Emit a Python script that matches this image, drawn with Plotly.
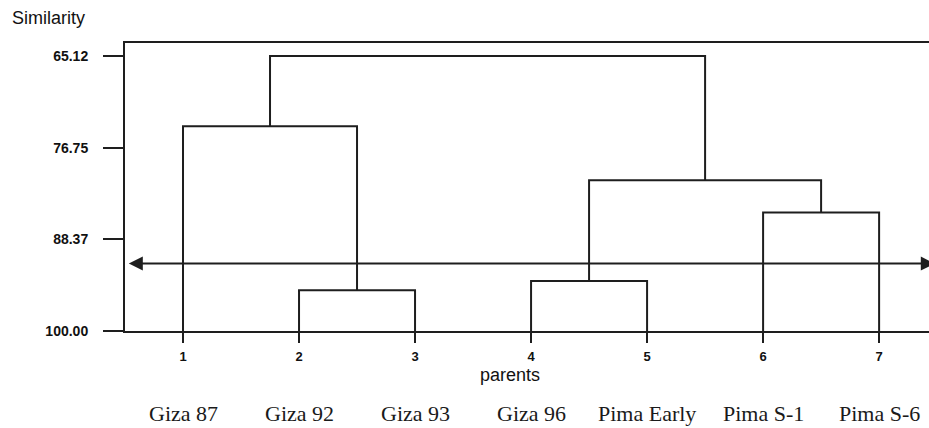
import plotly.graph_objects as go

# ---- data ----
leaf_ids = [1, 2, 3, 4, 5, 6, 7]
leaf_names = ["Giza 87", "Giza 92", "Giza 93", "Giza 96", "Pima Early", "Pima S-1", "Pima S-6"]
# merges: clusters C1..C6 created in order
merge_a = ["2", "4", "6", "1", "C2", "C4"]
merge_b = ["3", "5", "7", "C1", "C3", "C5"]
merge_height = [94.84, 93.66, 84.98, 74.04, 80.89, 65.12]
cut_level = 91.45
y_ticks = [65.12, 76.75, 88.37, 100.00]
y_tick_text = ["65.12", "76.75", "88.37", "100.00"]
leaf_base = 100.0

# ---- build dendrogram segments ----
pos = {str(i): (float(i), leaf_base) for i in leaf_ids}
xs, ys = [], []
for k, (a, b, h) in enumerate(zip(merge_a, merge_b, merge_height), start=1):
    xa, ha = pos[a]
    xb, hb = pos[b]
    xs += [xa, xa, xb, xb, None]
    ys += [ha, h, h, hb, None]
    pos["C%d" % k] = ((xa + xb) / 2.0, h)

line_col = "#1e1e1e"
fig = go.Figure()
fig.add_trace(go.Scatter(x=xs, y=ys, mode="lines",
                         line=dict(color=line_col, width=2),
                         hoverinfo="skip", showlegend=False, cliponaxis=False))

# cut line with double arrow
fig.add_annotation(x=7.48, y=cut_level, ax=0.52, ay=cut_level,
                   xref="x", yref="y", axref="x", ayref="y", text="",
                   showarrow=True, arrowside="end+start", arrowhead=2,
                   arrowsize=1.4, arrowwidth=2, arrowcolor=line_col)

# leaf names
for i, name in zip(leaf_ids, leaf_names):
    fig.add_annotation(x=i, y=-0.285, xref="x", yref="paper", text=name,
                       showarrow=False, yanchor="middle",
                       font=dict(family="Liberation Serif", size=22, color="#1a1a1a"))

fig.add_annotation(x=-0.143, y=1.087, xref="paper", yref="paper", text="Similarity",
                   showarrow=False, xanchor="left", yanchor="middle",
                   font=dict(family="Liberation Sans", size=18, color="#111"))
fig.add_annotation(x=0.479, y=-0.152, xref="paper", yref="paper", text="parents",
                   showarrow=False, xanchor="center", yanchor="middle",
                   font=dict(family="Liberation Sans", size=18, color="#111"))

fig.update_layout(
    width=929, height=428,
    margin=dict(l=125, r=0, t=43, b=97),
    paper_bgcolor="white", plot_bgcolor="white",
    xaxis=dict(range=[0.5, 7.43], tickvals=leaf_ids,
               ticktext=["<b>%d</b>" % i for i in leaf_ids],
               showline=True, linecolor=line_col, linewidth=2, mirror=True,
               ticks="outside", ticklen=10, tickwidth=2, tickcolor=line_col,
               ticklabelstandoff=2,
               showgrid=False, zeroline=False,
               tickfont=dict(family="Liberation Sans", size=13, color="#111")),
    yaxis=dict(range=[leaf_base, 63.47], tickvals=y_ticks,
               ticktext=["<b>%s</b>" % t for t in y_tick_text],
               showline=True, linecolor=line_col, linewidth=2,
               ticks="outside", ticklen=20, tickwidth=2, tickcolor=line_col,
               ticklabelstandoff=12,
               showgrid=False, zeroline=False,
               tickfont=dict(family="Liberation Sans", size=14, color="#111")),
)

fig.write_html("out.html", config={"displayModeBar": False},
               post_script="document.body.style.margin='0';document.body.style.overflow='hidden';")
